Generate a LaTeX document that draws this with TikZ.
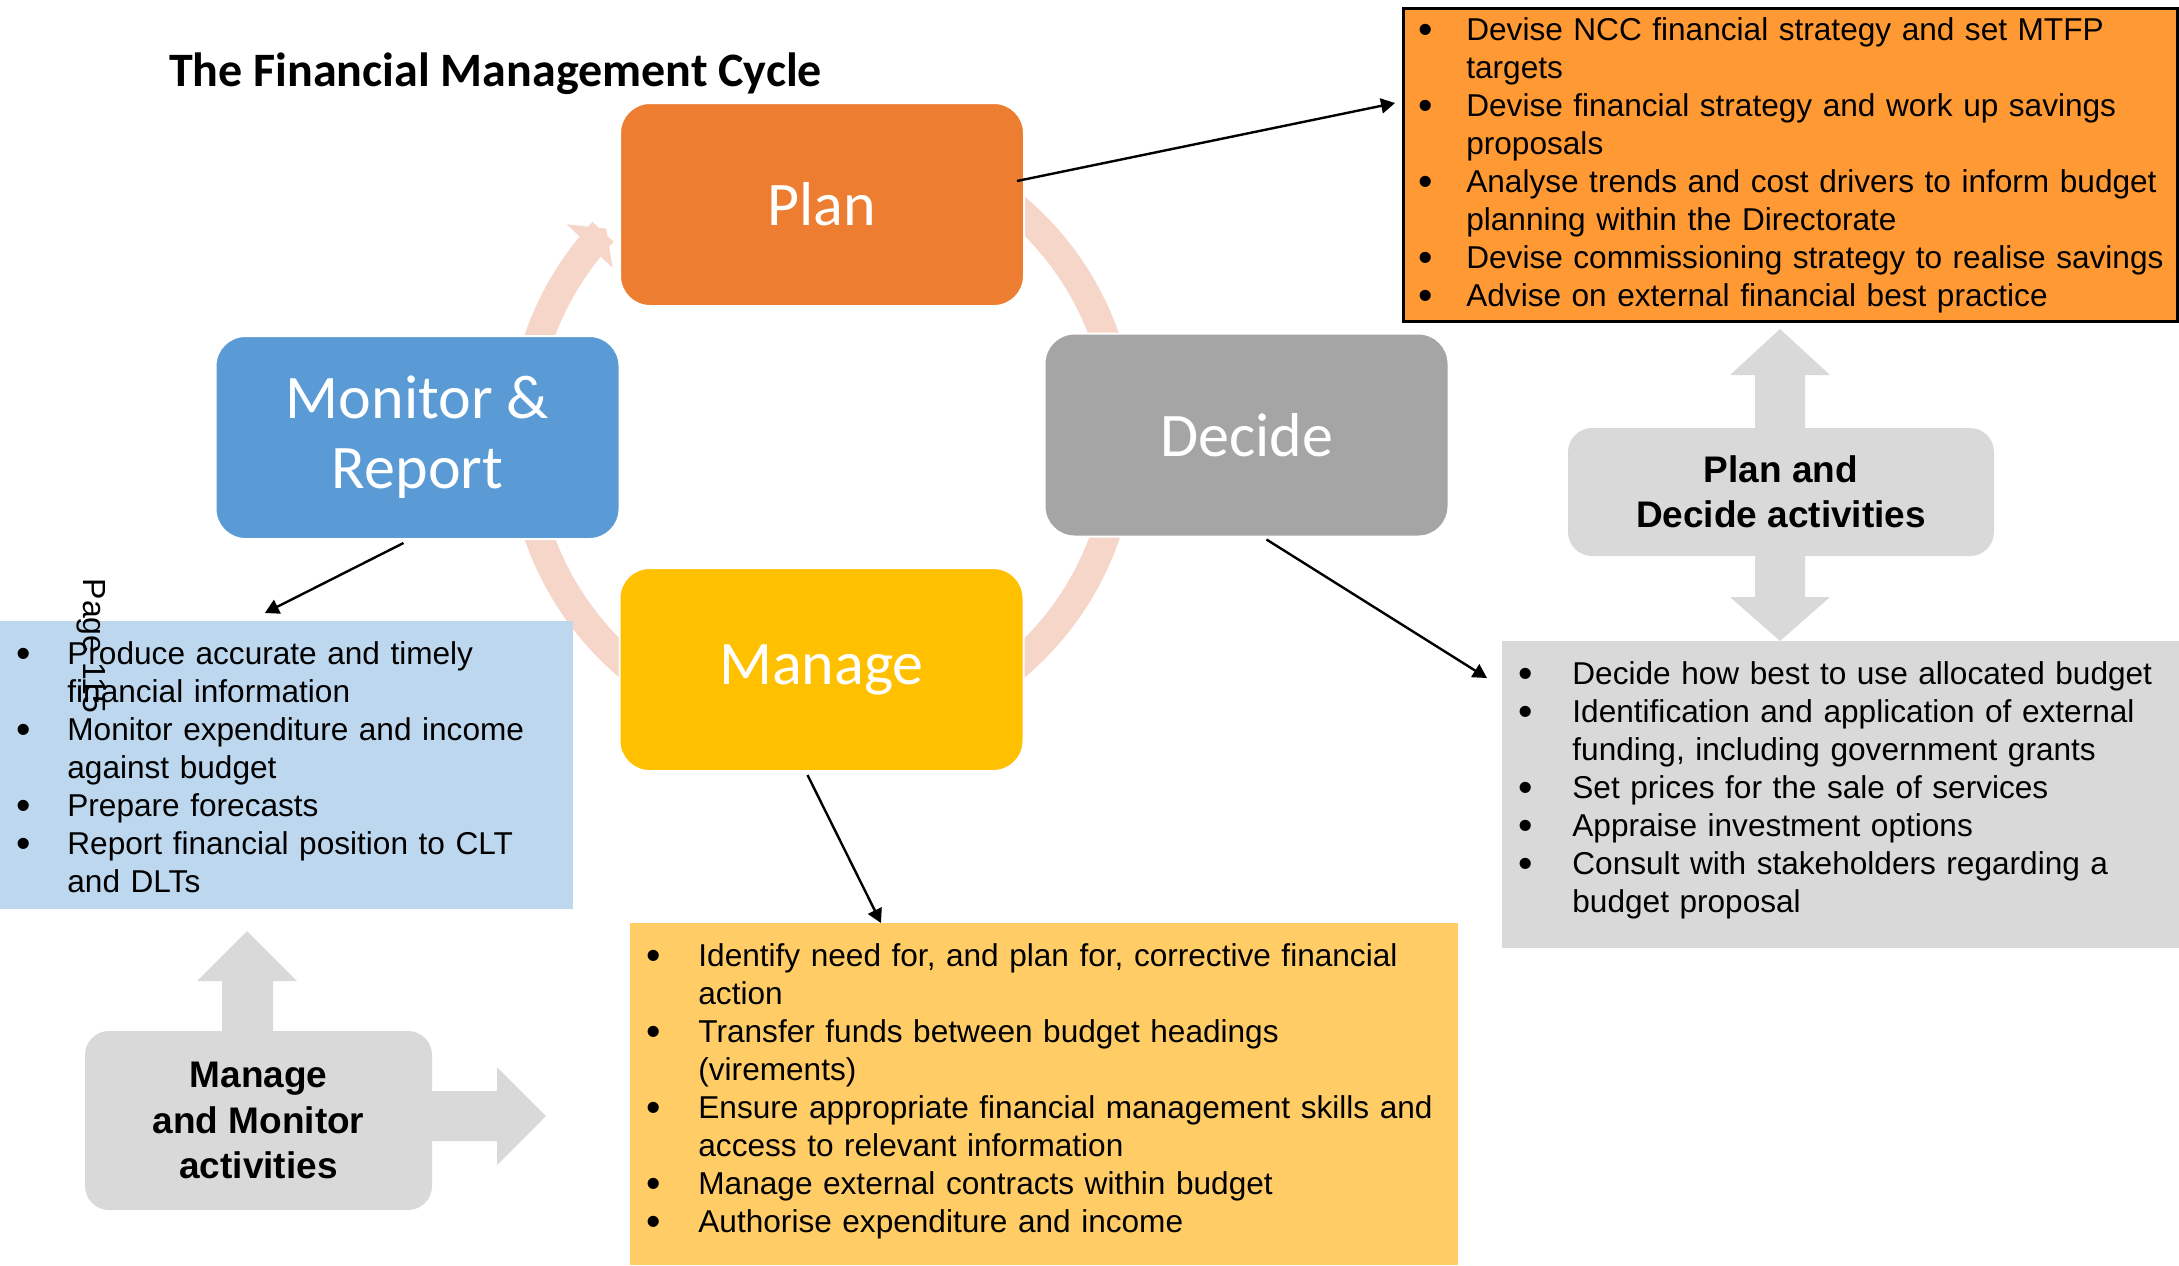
\documentclass[tikz,border=0pt]{standalone}
\usepackage{fontspec}
\setmainfont{Liberation Sans}
\newfontfamily\carlito{Carlito}
\usetikzlibrary{arrows.meta}
\definecolor{planorange}{HTML}{ED7D31}
\definecolor{monitorblue}{HTML}{5B9BD5}
\definecolor{decidegrey}{HTML}{A5A5A5}
\definecolor{manageyellow}{HTML}{FFC000}
\definecolor{ringpink}{HTML}{F7D6CA}
\definecolor{planfill}{HTML}{FF9933}
\definecolor{monitorfill}{HTML}{BDD7EE}
\definecolor{managefill}{HTML}{FFCC66}
\definecolor{actgrey}{HTML}{D9D9D9}
\setlength\parskip{0pt}

% bullet list used inside the task boxes: #1 text indent, #2 lift of the text
\newenvironment{tasklist}[2]{%
  \par\kern-#2\relax
  \begin{list}{\raisebox{-1.5pt}{\scalebox{1.3}{\textbullet}}}{\setlength\leftmargin{#1}%
    \setlength\labelwidth{15pt}\setlength\labelsep{\dimexpr#1-15pt\relax}%
    \setlength\itemsep{0pt}\setlength\parsep{0pt}\setlength\topsep{0pt}%
    \setlength\partopsep{0pt}\setlength\rightmargin{-40pt}}\raggedright}
  {\end{list}}

\begin{document}
\begin{tikzpicture}[x=0.5pt, y=-0.5pt,
    cyclebox/.style={rounded corners=15pt, minimum width=202pt, minimum height=101.5pt,
      draw=white, line width=1pt, text=white, align=center,
      font=\carlito\fontsize{31}{35}\selectfont},
    taskbox/.style={anchor=north west, inner xsep=0pt, inner ysep=2pt,
      font=\fontsize{15.8}{19}\selectfont},
    actbox/.style={rounded corners=12pt, fill=actgrey, inner sep=0pt, align=center,
      font=\bfseries\fontsize{18.5}{22.75}\selectfont},
    ring/.style={draw=ringpink, line width=14.5pt, -{Triangle[length=12pt,width=31pt]}},
    link/.style={-{Triangle[length=7pt,width=7.5pt]}, line width=1.2pt}]
  \useasboundingbox (0,0) rectangle (2179,1265);

  % Title
  \node[anchor=west, font=\carlito\bfseries\fontsize{24}{28}\selectfont] (title) at (162,74)
    {The Financial Management Cycle};

  % Ring arrows behind the cycle
  \foreach \a/\b in {-170/-136, -65/-10, 15/60, 115/170}
    \draw[ring] plot[domain=\a:\b, samples=40] ({822+300*cos(\x)}, {437+300*sin(\x)});

  % Cycle boxes
  \node[cyclebox, fill=planorange] (plan) at (822,204.5) {Plan};
  \node[cyclebox, fill=decidegrey] (decide) at (1246.5,435) {Decide};
  \node[cyclebox, fill=manageyellow] (manage) at (821.5,669.5) {Manage};
  \node[cyclebox, fill=monitorblue] (monitor) at (417.5,437.5) {Monitor \&\\Report};

  % Task boxes
  \node[taskbox, fill=planfill, draw=black, line width=1.3pt, text width=387pt,
    minimum height=156.5pt] (plantasks) at (1402,7) {%
    \begin{tasklist}{31.5pt}{7.5pt}
      \item Devise NCC financial strategy and set MTFP\newline targets
      \item Devise financial strategy and work up savings\newline proposals
      \item Analyse trends and cost drivers to inform budget\newline planning within the Directorate
      \item Devise commissioning strategy to realise savings
      \item Advise on external financial best practice
    \end{tasklist}};
  \node[taskbox, fill=monitorfill, text width=286.5pt, minimum height=144pt]
    (monitortasks) at (0,621) {%
    \begin{tasklist}{33.5pt}{6pt}
      \item Produce accurate and timely\newline financial information
      \item Monitor expenditure and income\newline against budget
      \item Prepare forecasts
      \item Report financial position to CLT\newline and DLTs
    \end{tasklist}};
  \node[taskbox, fill=actgrey, text width=338.5pt, minimum height=153.5pt]
    (decidetasks) at (1502,641) {%
    \begin{tasklist}{35pt}{12pt}
      \item Decide how best to use allocated budget
      \item Identification and application of external\newline funding, including government grants
      \item Set prices for the sale of services
      \item Appraise investment options
      \item Consult with stakeholders regarding a\newline budget proposal
    \end{tasklist}};
  \node[taskbox, fill=managefill, text width=414pt, minimum height=171pt]
    (managetasks) at (630,923) {%
    \begin{tasklist}{34pt}{10.5pt}
      \item Identify need for, and plan for, corrective financial\newline action
      \item Transfer funds between budget headings\newline (virements)
      \item Ensure appropriate financial management skills and\newline access to relevant information
      \item Manage external contracts within budget
      \item Authorise expenditure and income
    \end{tasklist}};

  % Page number over the blue box
  \node[rotate=-90, font=\fontsize{16}{19}\selectfont] (pagenum) at (91,646) {Page 115};

  % Links from the cycle to the task boxes
  \draw[link] ([xshift=-4pt,yshift=11.75pt]plan.east) -- ([xshift=-3.5pt,yshift=-48pt]plantasks.north west);
  \draw[link] ([xshift=-7pt,yshift=-1.5pt]monitor.south) -- ([xshift=-11pt,yshift=4pt]monitortasks.north);
  \draw[link] ([xshift=10pt,yshift=-1pt]decide.south) -- ([xshift=-7.5pt,yshift=-18.5pt]decidetasks.north west);
  \draw[link] ([xshift=-7pt,yshift=-1.5pt]manage.south) -- ([xshift=125.5pt]managetasks.north west);

  % Block arrows of the activity boxes
  \fill[actgrey] (1780,329) -- (1830,375) -- (1805,375) -- (1805,597) -- (1830,597)
    -- (1780,641) -- (1730,597) -- (1755,597) -- (1755,375) -- (1730,375) -- cycle;
  \fill[actgrey] (247,931) -- (297,981) -- (273,981) -- (273,1040) -- (222,1040)
    -- (222,981) -- (197,981) -- cycle;
  \fill[actgrey] (400,1091) -- (497,1091) -- (497,1067) -- (546,1116) -- (497,1165)
    -- (497,1141) -- (400,1141) -- cycle;

  % Activity boxes
  \node[actbox, minimum width=213pt, minimum height=64pt] (pdact) at (1781,492)
    {Plan and\\Decide activities};
  \node[actbox, minimum width=173.5pt, minimum height=89.5pt] (mmact) at (258.5,1120.5)
    {Manage\\and Monitor\\activities};
\end{tikzpicture}
\end{document}
